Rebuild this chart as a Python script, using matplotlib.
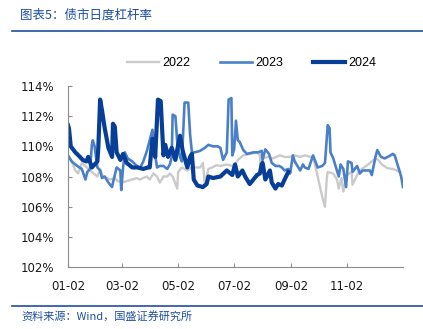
import numpy as np
import pandas as pd
import matplotlib
matplotlib.use("Agg")
import matplotlib.pyplot as plt
import matplotlib.dates as mdates

plt.rcParams['font.family'] = ['DejaVu Sans', 'Noto Sans CJK SC']

# 日度杠杆率（%），横轴为自 1 月 2 日起的天数
days_2022 = [0, 4, 8, 11, 15, 19, 22, 26, 32, 35, 38, 46, 51, 54, 59, 64, 70, 75, 78, 86,
             89, 93, 97, 100, 104, 108, 111, 114, 119, 120, 124, 130, 135, 141, 144, 147,
             149, 153, 157, 162, 166, 173, 179, 182, 185, 191, 198, 206, 209, 210, 212,
             218, 223, 231, 236, 242, 247, 253, 258, 264, 267, 271, 275, 278, 280, 282,
             283, 289, 293, 295, 298, 300, 304, 309, 310, 315, 318, 326, 331, 335, 338,
             342, 348, 354, 358, 362]
lev_2022 = [109.4, 109.0, 108.4, 108.2, 108.9, 108.7, 108.5, 108.3, 108.0, 108.5, 108.0,
            107.8, 107.9, 107.7, 107.6, 107.7, 107.8, 107.9, 107.8, 108.0, 107.8, 108.2,
            108.0, 107.6, 108.0, 108.0, 108.2, 108.0, 107.2, 108.3, 108.6, 108.4, 108.6,
            108.6, 108.6, 108.9, 107.5, 108.5, 108.6, 108.75, 108.7, 108.8, 108.7, 108.8,
            109.1, 109.4, 109.5, 109.6, 109.4, 108.2, 109.2, 109.3, 109.2, 109.4, 109.3,
            109.3, 109.4, 109.3, 109.4, 109.3, 109.3, 108.3, 107.2, 106.4, 106.0, 107.9,
            108.3, 108.2, 107.8, 107.2, 107.9, 107.0, 108.1, 108.3, 107.45, 108.1, 108.4,
            108.75, 109.0, 109.2, 109.1, 108.8, 108.55, 108.5, 108.4, 108.3]

days_2023 = [0, 4, 10, 15, 19, 21, 24, 26, 27, 29, 32, 35, 37, 40, 44, 48, 49, 53, 57, 58,
             60, 62, 65, 70, 75, 78, 82, 86, 89, 92, 95, 97, 100, 104, 108, 111, 113, 114,
             117, 119, 122, 124, 127, 131, 133, 135, 138, 144, 149, 153, 158, 163, 166,
             169, 173, 175, 178, 179, 181, 183, 185, 187, 191, 195, 202, 207, 211, 212,
             215, 219, 222, 226, 230, 233, 236, 240, 242, 245, 247, 251, 253, 256, 258,
             262, 267, 272, 277, 280, 283, 285, 286, 289, 291, 295, 297, 300, 303, 305,
             309, 310, 315, 318, 321, 326, 329, 331, 333, 335, 337, 341, 345, 350, 354,
             356, 360, 363, 365]
lev_2023 = [109.4, 109.0, 108.7, 108.5, 107.8, 108.3, 108.5, 110.1, 110.4, 110.0, 108.6,
            108.4, 107.9, 108.0, 107.6, 107.3, 107.6, 108.6, 108.4, 107.1, 108.6, 109.6,
            109.2, 109.0, 108.7, 108.5, 109.0, 109.7, 110.4, 111.1, 109.4, 108.6, 108.7,
            108.7, 108.5, 108.8, 109.3, 112.1, 112.0, 110.3, 109.3, 109.0, 112.9, 112.9,
            110.8, 109.6, 109.6, 109.7, 109.9, 110.1, 110.0, 110.0, 109.9, 109.1, 109.6,
            113.1, 113.2, 109.4, 109.8, 111.7, 110.4, 110.3, 109.75, 109.5, 109.6, 109.6,
            109.7, 109.1, 109.8, 109.5, 108.9, 108.7, 108.7, 108.6, 108.4, 108.5, 108.2,
            109.4, 109.0, 108.6, 108.4, 108.8, 108.6, 108.5, 109.4, 108.6, 108.7, 108.9,
            111.4, 111.2, 109.6, 109.2, 108.8, 108.0, 108.8, 108.5, 107.3, 109.0, 108.9,
            108.3, 108.7, 108.2, 108.4, 108.4, 108.4, 108.1, 108.7, 109.3, 109.75, 109.3,
            109.2, 109.35, 109.5, 109.4, 108.6, 108.0, 107.3]

days_2024 = [0, 1, 3, 8, 13, 16, 20, 22, 26, 32, 33, 35, 37, 40, 44, 48, 49, 51, 53, 57,
             60, 64, 70, 76, 82, 87, 89, 92, 95, 98, 101, 104, 106, 109, 113, 117, 120,
             122, 125, 130, 133, 135, 137, 141, 147, 151, 153, 158, 166, 173, 179, 182,
             185, 190, 193, 198, 202, 206, 209, 211, 212, 215, 220, 222, 226, 229, 233,
             236, 240]
lev_2024 = [111.4, 111.2, 110.0, 109.6, 109.3, 109.1, 109.0, 109.3, 108.6, 109.0, 109.9,
            113.1, 112.4, 111.2, 109.9, 109.3, 111.5, 111.3, 109.6, 109.1, 109.5, 108.9,
            108.6, 108.6, 108.5, 108.6, 108.6, 110.5, 109.3, 113.1, 113.0, 109.4, 110.1,
            109.3, 109.9, 109.1, 110.1, 110.7, 109.7, 108.6, 109.3, 109.5, 107.8, 107.4,
            107.3, 107.5, 108.0, 107.9, 108.0, 108.4, 108.1, 108.8, 108.0, 108.4, 108.0,
            107.5, 107.8, 108.1, 108.2, 108.8, 108.9, 107.8, 108.4, 107.6, 107.2, 107.5,
            107.4, 107.8, 108.3]

tick_labels = ['01-02', '03-02', '05-02', '07-02', '09-02', '11-02']

base = pd.Timestamp('2023-01-02')
to_date = lambda d: base + pd.to_timedelta(d, unit='D')

fig = plt.figure(figsize=(4.23, 3.29), dpi=100)
ax = fig.add_axes([0.1608, 0.1884, 0.7919, 0.5502])

ax.plot(to_date(days_2022), lev_2022, color='#cacaca', lw=1.7, label='2022')
ax.plot(to_date(days_2023), lev_2023, color='#4a80c8', lw=1.9, label='2023')
ax.plot(to_date(days_2024), lev_2024, color='#073f98', lw=3.0, label='2024')

ax.set_ylim(102, 114)
ax.set_yticks(np.arange(102, 115, 2))
ax.set_yticklabels(['%d%%' % v for v in np.arange(102, 115, 2)])
ax.set_xlim(base, to_date(365))
ax.set_xticks([pd.Timestamp('2023-' + t) for t in tick_labels])
ax.xaxis.set_major_formatter(mdates.DateFormatter('%m-%d'))

for s in ['top', 'right']:
    ax.spines[s].set_visible(False)
for s in ['left', 'bottom']:
    ax.spines[s].set_color('#8c8c8c')
    ax.spines[s].set_linewidth(0.8)
ax.tick_params(axis='both', direction='in', length=3, width=0.8, color='#8c8c8c',
               labelsize=8.5, labelcolor='#1a1a1a')
ax.tick_params(axis='x', pad=9)
ax.tick_params(axis='y', pad=10)

ax.legend(loc='center', bbox_to_anchor=(0.595, 0.8085), bbox_transform=fig.transFigure,
          ncol=3, frameon=False, prop={'family': 'Liberation Sans', 'size': 9},
          handlelength=2.6, columnspacing=2.35, handletextpad=0.25)

# 标题与来源
fig.text(0.047, 0.955, '图表5：债市日度杠杆率', fontsize=9, color='#1f4f9e',
         family=['Noto Sans CJK SC', 'DejaVu Sans'], va='center')
fig.add_artist(plt.Line2D([0.028, 1.0], [0.905, 0.905], color='#1f4f9e', lw=1.2))
fig.add_artist(plt.Line2D([0.028, 1.0], [0.07, 0.07], color='#1f4f9e', lw=1.2))
fig.text(0.05, 0.04, '资料来源：Wind，国盛证券研究所', fontsize=8, color='#1f4f9e',
         family=['Noto Sans CJK SC', 'DejaVu Sans'], va='center')

fig.savefig('out.png', dpi=100)
